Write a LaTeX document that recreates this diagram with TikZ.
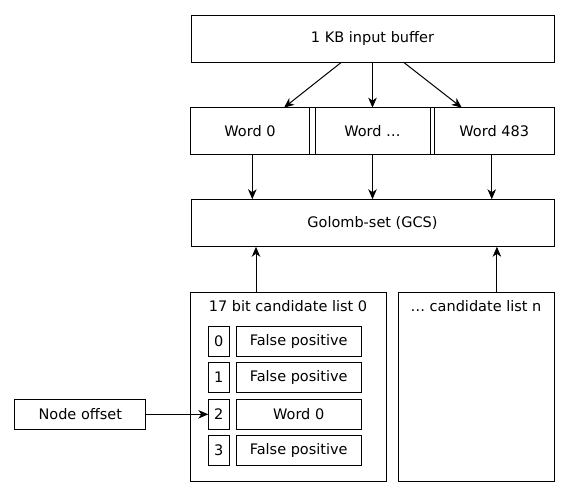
\documentclass[tikz,border=0pt]{standalone}
\usepackage{fontspec}
\setmainfont{DejaVu Sans}
\usetikzlibrary{arrows.meta}
\begin{document}
\begin{tikzpicture}[x=1pt,y=-1pt,
  every node/.style={font=\fontsize{14.5}{17}\selectfont},
  box/.style={draw,line width=1pt,rectangle,inner sep=0pt,outer sep=0pt},
  arr/.style={line width=1pt,-{Stealth[length=10pt,width=8.5pt,inset=3pt]}},
  ttl/.style={anchor=base,inner sep=0pt}]
\useasboundingbox (0,0) rectangle (569,496);
% top buffer
\node[box,minimum width=363pt,minimum height=47pt] (buf) at (372.5,38.7) {1 KB input buffer};
% words
\node[box,minimum width=119pt,minimum height=46.5pt] (w0) at (250,130.9) {Word 0};
\node[box,minimum width=115pt,minimum height=46.5pt] (wd) at (372.5,130.9) {Word \dots};
\node[box,minimum width=119.5pt,minimum height=46.5pt] (w483) at (494.25,130.9) {Word 483};
\draw[line width=1pt] (w0.north west) rectangle (w483.south east);
% golomb
\node[box,minimum width=363pt,minimum height=47.5pt] (gcs) at (372.5,223) {Golomb-set (GCS)};
% candidate lists
\node[box,minimum width=195.5pt,minimum height=189pt] (cl0) at (288.5,386.7) {};
\node[box,minimum width=156pt,minimum height=189pt] (cln) at (476.2,386.7) {};
\node[ttl] (t0) at (288,311.5) {17 bit candidate list 0};
\node[ttl] (tn) at (476,311.5) {\dots{} candidate list n};
% rows
\foreach \i/\y/\t in {0/341.3/False positive,1/377.3/False positive,2/414.3/Word 0,3/450.3/False positive}{
  \node[box,minimum width=21pt,minimum height=30pt] (idx\i) at (218.8,\y) {\i};
  \node[box,minimum width=125.3pt,minimum height=30pt] (val\i) at (298.7,\y) {\t};
}
% node offset
\node[box,minimum width=130.7pt,minimum height=30pt] (off) at (80.3,414.3) {Node offset};
% arrows
\draw[arr] ([xshift=-31pt]buf.south) -- ([xshift=34pt]w0.north);
\draw[arr] (buf.south) -- (wd.north);
\draw[arr] ([xshift=31pt]buf.south) -- ([xshift=-32.5pt]w483.north);
\draw[arr] ([xshift=2.3pt]w0.south) -- ([xshift=2.3pt]w0.south |- gcs.north);
\draw[arr] (wd.south) -- (wd.south |- gcs.north);
\draw[arr] ([xshift=-2.5pt]w483.south) -- ([xshift=-2.5pt]w483.south |- gcs.north);
\draw[arr] ([xshift=-32.5pt]cl0.north) -- ([xshift=-32.5pt]cl0.north |- gcs.south);
\draw[arr] ([xshift=20.7pt]cln.north) -- ([xshift=20.7pt]cln.north |- gcs.south);
\draw[arr] (off.east) -- (idx2.west);
\end{tikzpicture}
\end{document}
